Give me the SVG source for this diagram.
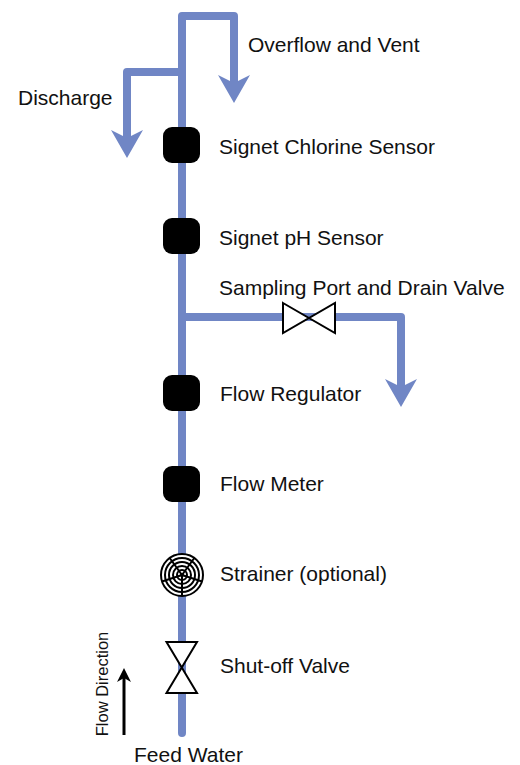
<svg xmlns="http://www.w3.org/2000/svg" width="520" height="765" viewBox="0 0 520 765">
<defs>
<marker id="pipeArrow" viewBox="0 0 28 32" refX="8" refY="16" markerWidth="28" markerHeight="32" markerUnits="userSpaceOnUse" orient="auto">
<path d="M0,0 L28,16 L0,32 L8,16 Z" fill="#7086c5"/>
</marker>
<marker id="flowArrow" viewBox="0 0 14 14" refX="4" refY="7" markerWidth="14" markerHeight="14" markerUnits="userSpaceOnUse" orient="auto">
<path d="M0,0 L14,7 L0,14 L4,7 Z" fill="#000"/>
</marker>
</defs>
<style>
.pipe{fill:none;stroke:#7086c5;stroke-width:8;stroke-linejoin:round}
.lbl{font-family:"Liberation Sans",Arial,sans-serif;font-size:21px;fill:#111}
.sensor{fill:#000}
.valve{fill:#fff;stroke:#000;stroke-width:2;stroke-linejoin:miter}
.ring{fill:none;stroke:#000;stroke-width:2}
</style>
<rect width="520" height="765" fill="#fff"/>
<g id="connectors">
<path class="pipe" d="M182,733 V16 H234 V83" marker-end="url(#pipeArrow)" stroke-linecap="round"/>
<path class="pipe" d="M182,72 H127 V138" marker-end="url(#pipeArrow)"/>
<path class="pipe" d="M182,317 H401 V387" marker-end="url(#pipeArrow)"/>
<path d="M124,735 V678" stroke="#000" stroke-width="3" fill="none" marker-end="url(#flowArrow)"/>
</g>
<g id="overflow-vent"><text class="lbl" x="248" y="52">Overflow and Vent</text></g>
<g id="discharge"><text class="lbl" x="18" y="105">Discharge</text></g>
<g id="chlorine-sensor">
<rect class="sensor" x="163" y="127" width="37" height="36" rx="9"/>
<text class="lbl" x="219" y="154">Signet Chlorine Sensor</text>
</g>
<g id="ph-sensor">
<rect class="sensor" x="163" y="218" width="37" height="36" rx="9"/>
<text class="lbl" x="219" y="245">Signet pH Sensor</text>
</g>
<g id="sampling-valve">
<path class="valve" d="M283,303 L335,333 L335,303 L283,333 Z"/>
<text class="lbl" x="219" y="295">Sampling Port and Drain Valve</text>
</g>
<g id="flow-regulator">
<rect class="sensor" x="163" y="375" width="37" height="36" rx="9"/>
<text class="lbl" x="220" y="401">Flow Regulator</text>
</g>
<g id="flow-meter">
<rect class="sensor" x="163" y="466" width="37" height="36" rx="9"/>
<text class="lbl" x="220" y="491">Flow Meter</text>
</g>
<g id="strainer">
<circle cx="182" cy="575" r="21" fill="#fff" stroke="#000" stroke-width="2"/>
<circle class="ring" cx="182" cy="575" r="17"/>
<circle class="ring" cx="182" cy="575" r="13"/>
<circle class="ring" cx="182" cy="575" r="9"/>
<circle class="ring" cx="182" cy="575" r="5"/>
<circle cx="182" cy="575" r="2" fill="#000"/>
<path d="M182,575 L182,596 M182,575 L162.0,581.5 M182,575 L169.7,558.0 M182,575 L194.3,558.0 M182,575 L202.0,581.5" stroke="#000" stroke-width="2" fill="none"/>
<text class="lbl" x="220" y="581">Strainer (optional)</text>
</g>
<g id="shutoff-valve">
<path class="valve" d="M166.5,642 L197,642 L166.5,693 L197,693 Z"/>
<text class="lbl" x="220" y="673">Shut-off Valve</text>
</g>
<g id="feed-water"><text class="lbl" x="134" y="762">Feed Water</text></g>
<g id="flow-direction"><text class="lbl" style="font-size:16.5px" transform="translate(108,684) rotate(-90)" text-anchor="middle">Flow Direction</text></g>
</svg>
